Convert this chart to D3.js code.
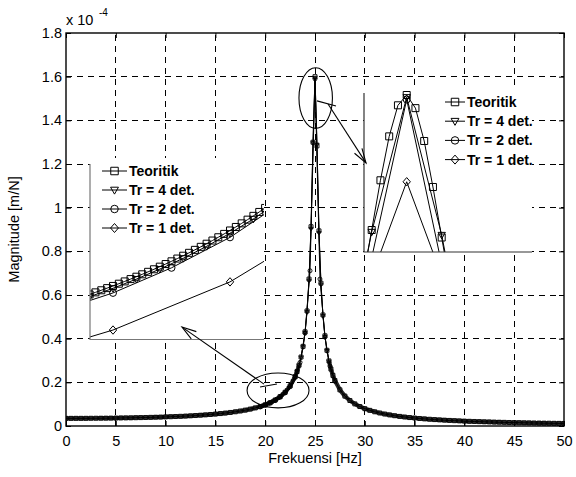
<!DOCTYPE html>
<html><head><meta charset="utf-8">
<script src="https://cdn.jsdelivr.net/npm/d3@7"></script>
<style>
body{margin:0;background:#fff}
svg text{font-family:"Liberation Sans",Arial,Helvetica,sans-serif;fill:#000}
</style>
</head><body>
<svg id="c" width="576" height="477"></svg>
<script>
// ---------------- DATA ----------------
const xTicks=[0,5,10,15,20,25,30,35,40,45,50];
const xTickLabels=["0","5","10","15","20","25","30","35","40","45","50"];
const yTicks=[0,0.2,0.4,0.6,0.8,1,1.2,1.4,1.6,1.8];
const yTickLabels=["0","0.2","0.4","0.6","0.8","1","1.2","1.4","1.6","1.8"];
const seriesNames=["Teoritik","Tr = 4 det.","Tr = 2 det.","Tr = 1 det."];
const xLabel="Frekuensi [Hz]";
const yLabel="Magnitude [m/N]";
const expLabel="x 10";
const expPower="-4";

// Teoritik, full range (magnitude in units of 1e-4 m/N)
const teoF=[0,0.5,1,1.5,2,2.5,3,3.5,4,4.5,5,5.5,6,6.5,7,7.5,8,8.5,9,9.5,10,10.5,11,11.5,12,12.5,13,13.5,14,14.5,15,15.5,16,16.5,17,17.5,18,18.5,19,19.5,20,20.5,21,21.5,22,22.5,23,
23.2,23.4,23.6,23.8,24,24.2,24.4,24.6,24.8,25,25.2,25.4,25.6,25.8,26,26.2,26.4,26.6,26.8,27,
27.5,28,28.5,29,29.5,30,30.5,31,31.5,32,32.5,33,33.5,34,34.5,35,35.5,36,36.5,37,37.5,38,38.5,39,39.5,40,40.5,41,41.5,42,42.5,43,43.5,44,44.5,45,45.5,46,46.5,47,47.5,48,48.5,49,49.5,50];
const teoV=[0.0350,0.0350,0.0351,0.0351,0.0352,0.0354,0.0355,0.0357,0.0359,0.0362,0.0365,0.0368,0.0371,0.0375,0.0380,0.0385,0.0390,0.0396,0.0402,0.0409,0.0417,0.0425,0.0434,0.0444,0.0455,0.0467,0.0480,0.0494,0.0510,0.0527,0.0547,0.0569,0.0593,0.0620,0.0651,0.0686,0.0727,0.0774,0.0829,0.0894,0.0972,0.1068,0.1189,0.1344,0.1546,0.1832,0.2259,
0.2495,0.2787,0.3159,0.3647,0.4312,0.5268,0.6729,0.9126,1.2997,1.6000,1.2830,0.8936,0.6542,0.5085,0.4131,0.3467,0.2981,0.2609,0.2318,0.2082,
0.1656,0.1369,0.1168,0.1013,0.0892,0.0795,0.0717,0.0651,0.0596,0.0548,0.0507,0.0471,0.0440,0.0412,0.0387,0.0365,0.0344,0.0326,0.0309,0.0294,0.0280,0.0267,0.0255,0.0244,0.0234,0.0224,0.0215,0.0207,0.0199,0.0192,0.0185,0.0179,0.0173,0.0167,0.0161,0.0156,0.0151,0.0147,0.0142,0.0138,0.0134,0.0130,0.0127,0.0123,0.0120,0.0117];

// Teoritik, fine resolution around the two zoomed regions
const teoLeftF=[19.75,19.8,19.85,19.9,19.95,20,20.05,20.1,20.15,20.2,20.25,20.3,20.35,20.4,20.45,20.5,20.55,20.6,20.65,20.7,20.75,20.8,20.85,20.9,20.95,21,21.05,21.1,21.15,21.2,21.25,21.3];
const teoLeftV=[0.09311,0.09390,0.09471,0.09553,0.09637,0.09722,0.09810,0.09899,0.09990,0.10083,0.10177,0.10274,0.10373,0.10475,0.10578,0.10684,0.10792,0.10903,0.11016,0.11132,0.11250,0.11372,0.11496,0.11624,0.11755,0.11889,0.12026,0.12167,0.12312,0.12460,0.12613,0.12769];
const teoRightF=[24.7,24.75,24.8,24.85,24.9,24.95,25,25.05,25.1,25.15,25.2,25.25,25.3];
const teoRightV=[1.0873,1.1900,1.2997,1.4103,1.5080,1.5771,1.6000,1.5708,1.4977,1.3954,1.2830,1.1718,1.0684];

// Measured series
const tr4F=[19.6,19.8,20,20.2,20.4,20.6,20.8,21,21.2,21.4,21.6,21.8,22,22.2,22.4,22.6,22.8,23,23.2,23.4,23.6,23.8,24,24.2,24.4,24.6,24.8,25,25.2,25.4,25.6,25.8,26,26.2,26.4];
const tr4V=[0.0900,0.0930,0.0963,0.0999,0.1038,0.1080,0.1127,0.1178,0.1234,0.1297,0.1368,0.1447,0.1531,0.1633,0.1750,0.1886,0.2046,0.2238,0.2471,0.2760,0.3128,0.3611,0.4270,0.5216,0.6662,0.9035,1.2953,1.5950,1.2886,0.8850,0.6480,0.5035,0.4090,0.3433,0.2952];
const tr2F=[19.5,20,20.5,21,21.5,22,22.5,23,23.5,24,24.5,25,25.5,26,26.5,27];
const tr2V=[0.0870,0.0945,0.1043,0.1162,0.1315,0.1515,0.1800,0.2220,0.2915,0.4250,0.7110,1.5900,0.6730,0.4070,0.2745,0.2050];
const tr1F=[19,20,21,22,23,24,25,26,27];
const tr1V=[0.0663,0.0800,0.0988,0.1265,0.1900,0.3540,1.4070,0.3610,0.1750];

// Annotations (data units of the main axes)
const ellipses=[{cx:25.07,cy:1.502,rx:1.68,ry:0.139},{cx:21.29,cy:0.163,rx:3.11,ry:0.080}];
const arrows=[{from:[26.31,1.475],to:[30.12,1.205]},{from:[19.88,0.192],to:[11.65,0.453]}];
const ticksegs=[{from:[25.2,1.489],to:[27.11,1.466]},{from:[19.48,0.179],to:[21.18,0.192]}];

// ---------------- STYLE / LAYOUT ----------------
const markerTypes=["square","triangle","circle","diamond"];
const P={l:66,r:564,t:33,b:426};
const FS=14.5;
const svg=d3.select("#c");
const X=d3.scaleLinear().domain([0,50]).range([P.l,P.r]);
const Y=d3.scaleLinear().domain([0,1.8]).range([P.b,P.t]);
const zip=(f,v)=>f.map((d,i)=>[d,v[i]]);

function mk(type,s){
  const h=s/2;
  if(type==="square") return `M${-h},${-h}h${s}v${s}h${-s}Z`;
  if(type==="triangle") return `M${-h*1.05},${-h*0.75}L${h*1.05},${-h*0.75}L0,${h*1.1}Z`;
  if(type==="circle") return `M${-h},0a${h},${h} 0 1,0 ${s},0a${h},${h} 0 1,0 ${-s},0Z`;
  if(type==="diamond") return `M0,${-h*1.2}L${h*1.05},0L0,${h*1.2}L${-h*1.05},0Z`;
}

const defs=svg.append("defs");
defs.append("clipPath").attr("id","cmain").append("rect")
  .attr("x",P.l).attr("y",P.t).attr("width",P.r-P.l).attr("height",P.b-P.t);

// grid
const grid=svg.append("g").attr("stroke","#000").attr("stroke-width",1).attr("stroke-dasharray","6,5").attr("shape-rendering","crispEdges");
grid.selectAll(".gx").data(xTicks.filter(d=>d>0&&d<50)).join("line")
  .attr("x1",d=>X(d)).attr("x2",d=>X(d)).attr("y1",P.b).attr("y2",P.t);
grid.selectAll(".gy").data(yTicks.filter(d=>d>0&&d<1.8)).join("line")
  .attr("y1",d=>Y(d)).attr("y2",d=>Y(d)).attr("x1",P.l).attr("x2",P.r);

// main data
const line=(sx,sy)=>d3.line().x(d=>sx(d[0])).y(d=>sy(d[1]));
const mainData=[zip(teoF,teoV),zip(tr4F,tr4V),zip(tr2F,tr2V)];
const gm=svg.append("g").attr("clip-path","url(#cmain)");
// dense band of overlapping markers where the curve is flat
gm.append("path").attr("d",line(X,Y).defined(d=>d[1]<0.3)(mainData[0])).attr("fill","none")
  .attr("stroke","#2a2a2a").attr("stroke-width",4.2).attr("stroke-linejoin","round");
mainData.forEach((dat,k)=>{
  gm.append("path").attr("d",line(X,Y)(dat)).attr("fill","none").attr("stroke","#000").attr("stroke-width",1);
  gm.selectAll(null).data(dat).join("path")
    .attr("transform",d=>`translate(${X(d[0])},${Y(d[1])})`)
    .attr("d",mk(markerTypes[k],4)).attr("fill","none").attr("stroke","#000").attr("stroke-width",0.9);
});

// axes
const ax=svg.append("g");
ax.append("g").attr("transform",`translate(0,${P.b})`)
  .call(d3.axisBottom(X).tickValues(xTicks).tickFormat((d,i)=>xTickLabels[i]).tickSize(-5).tickPadding(10));
ax.append("g").attr("transform",`translate(${P.l},0)`)
  .call(d3.axisLeft(Y).tickValues(yTicks).tickFormat((d,i)=>yTickLabels[i]).tickSize(-5).tickPadding(4));
ax.append("g").attr("transform",`translate(0,${P.t})`)
  .call(d3.axisTop(X).tickValues(xTicks).tickFormat("").tickSize(-5));
ax.append("g").attr("transform",`translate(${P.r},0)`)
  .call(d3.axisRight(Y).tickValues(yTicks).tickFormat("").tickSize(-5));
ax.selectAll(".domain").remove();
ax.selectAll(".tick line").attr("stroke","#000");
ax.selectAll(".tick text").attr("font-size",FS).style("font-family","'Liberation Sans',Arial,sans-serif");
svg.append("rect").attr("x",P.l).attr("y",P.t).attr("width",P.r-P.l).attr("height",P.b-P.t)
  .attr("fill","none").attr("stroke","#000").attr("stroke-width",1.4);

// labels
svg.append("text").attr("x",(P.l+P.r)/2).attr("y",463).attr("text-anchor","middle").attr("font-size",FS).text(xLabel);
svg.append("text").attr("transform",`translate(19,${(P.t+P.b)/2}) rotate(-90)`).attr("text-anchor","middle").attr("font-size",FS).text(yLabel);
svg.append("text").attr("x",66).attr("y",25).attr("font-size",FS).text(expLabel);
svg.append("text").attr("x",99).attr("y",16).attr("font-size",10).text(expPower);

// insets
function inset(c){
  const sx=d3.scaleLinear().domain(c.xd).range([c.l,c.r]);
  const sy=d3.scaleLinear().domain(c.yd).range([c.b,c.t]);
  const g=svg.append("g");
  g.append("rect").attr("x",c.l).attr("y",c.t).attr("width",c.r-c.l).attr("height",c.b-c.t).attr("fill","#fff");
  defs.append("clipPath").attr("id",c.id).append("rect").attr("x",c.l).attr("y",c.t).attr("width",c.r-c.l).attr("height",c.b-c.t);
  const gd=g.append("g").attr("clip-path",`url(#${c.id})`);
  c.data.forEach((dat,k)=>{
    gd.append("path").attr("d",line(sx,sy)(dat)).attr("fill","none").attr("stroke","#000").attr("stroke-width",1);
    gd.selectAll(null).data(dat).join("path")
      .attr("transform",d=>`translate(${sx(d[0])},${sy(d[1])})`)
      .attr("d",mk(markerTypes[k],7)).attr("fill","none").attr("stroke","#000").attr("stroke-width",1);
  });
  g.append("path").attr("d",`M${c.l},${c.t+6}V${c.b}H${c.r}`).attr("fill","none").attr("stroke",c.axc).attr("stroke-width",1.2);
  const lg=g.append("g");
  seriesNames.forEach((n,k)=>{
    const yy=c.t+c.lgT+k*c.lgS;
    lg.append("line").attr("x1",c.l+c.lgX).attr("x2",c.l+c.lgX+c.lgW).attr("y1",yy).attr("y2",yy).attr("stroke","#000");
    lg.append("path").attr("transform",`translate(${c.l+c.lgX+c.lgW/2},${yy})`).attr("d",mk(markerTypes[k],7.5)).attr("fill","none").attr("stroke","#000");
    lg.append("text").attr("x",c.l+c.lgX+c.lgW+2).attr("y",yy+5).attr("font-size",14).attr("font-weight","bold").text(n);
  });
}
inset({id:"cl",l:90,r:264,t:158,b:339.5,xd:[19.8034,21.2906],yd:[0.0763,0.1472],axc:"#777",
  data:[zip(teoLeftF,teoLeftV),zip(tr4F,tr4V),zip(tr2F,tr2V),zip(tr1F,tr1V)],
  lgX:12,lgW:25,lgT:13,lgS:19});
inset({id:"cr",l:364,r:532,t:87,b:252,xd:[24.756,25.716],yd:[1.2508,1.6178],axc:"#333",
  data:[zip(teoRightF,teoRightV),zip(tr4F,tr4V),zip(tr2F,tr2V),zip(tr1F,tr1V)],
  lgX:81,lgW:20,lgT:15,lgS:19.2});

// annotations
const an=svg.append("g").attr("fill","none").attr("stroke","#000").attr("stroke-width",1.1);
ellipses.forEach(e=>{
  an.append("ellipse").attr("cx",X(e.cx)).attr("cy",Y(e.cy))
    .attr("rx",X(e.cx+e.rx)-X(e.cx)).attr("ry",Y(e.cy-e.ry)-Y(e.cy));
});
ticksegs.forEach(s=>{
  an.append("line").attr("x1",X(s.from[0])).attr("y1",Y(s.from[1])).attr("x2",X(s.to[0])).attr("y2",Y(s.to[1]));
});
arrows.forEach(a=>{
  const x1=X(a.from[0]),y1=Y(a.from[1]),x2=X(a.to[0]),y2=Y(a.to[1]);
  an.append("line").attr("x1",x1).attr("y1",y1).attr("x2",x2).attr("y2",y2);
  const ang=Math.atan2(y1-y2,x1-x2), L=15, da=0.3;
  an.append("path").attr("d",`M${x2+L*Math.cos(ang+da)},${y2+L*Math.sin(ang+da)}L${x2},${y2}L${x2+L*Math.cos(ang-da)},${y2+L*Math.sin(ang-da)}`);
});
</script>
</body></html>
